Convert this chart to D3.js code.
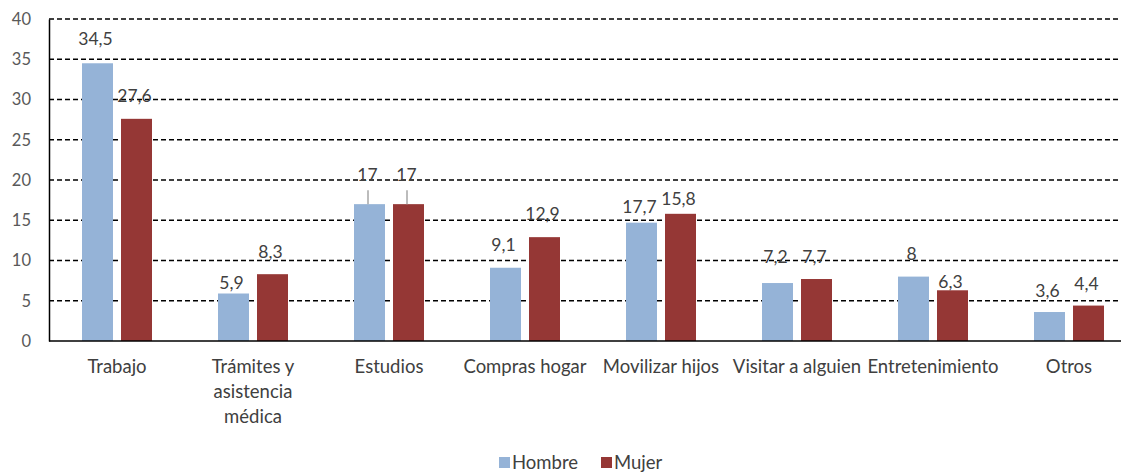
<!DOCTYPE html>
<html>
<head>
<meta charset="utf-8">
<script src="https://cdn.jsdelivr.net/npm/d3@7"></script>
<style>
  body { margin: 0; background: #fff; }
  svg text { font-family: Lato, "Open Sans", sans-serif; }
</style>
</head>
<body>
<div id="chart"></div>
<script>
const width = 1121;
const height = 473;

// Datos
const categories = ["Trabajo", "Trámites y asistencia médica", "Estudios", "Compras hogar",
  "Movilizar hijos", "Visitar a alguien", "Entretenimiento", "Otros"];
const categoryLines = [["Trabajo"], ["Trámites y", "asistencia", "médica"], ["Estudios"], ["Compras hogar"],
  ["Movilizar hijos"], ["Visitar a alguien"], ["Entretenimiento"], ["Otros"]];
const hombre = [34.5, 5.9, 17, 9.1, 14.7, 7.2, 8, 3.6];
const mujer = [27.6, 8.3, 17, 12.9, 15.8, 7.7, 6.3, 4.4];
const hombreLabels = ["34,5", "5,9", "17", "9,1", "17,7", "7,2", "8", "3,6"];
const mujerLabels = ["27,6", "8,3", "17", "12,9", "15,8", "7,7", "6,3", "4,4"];
// altura (en unidades del eje) donde quedaron las etiquetas
const hombreLabelAt = [37.5, 7.2, 20.6, 11.9, 16.6, 10.4, 10.8, 6.2];
const mujerLabelAt = [30.4, 11.1, 20.6, 15.8, 17.6, 10.4, 7.3, 7.1];
const yTicks = [0, 5, 10, 15, 20, 25, 30, 35, 40];
const series = ["Hombre", "Mujer"];
const colors = ["#95B3D7", "#953735"];

const margin = { top: 19, left: 49, bottom: 132 };
const svg = d3.select("#chart").append("svg")
  .attr("width", width)
  .attr("height", height);

const y = d3.scaleLinear().domain([0, 40]).range([height - margin.bottom, margin.top]);
const x = d3.scaleBand().domain(categories).range([margin.left, margin.left + 136 * 8]);
// barras de 31px con 8px de separación
const xs = d3.scaleBand().domain(series)
  .range([x.bandwidth() / 2 - 35, x.bandwidth() / 2 + 35])
  .paddingInner(8 / 39);

// Líneas de cuadrícula
svg.append("g")
  .selectAll("line")
  .data(yTicks.filter(d => d > 0))
  .join("line")
  .attr("x1", margin.left).attr("x2", width)
  .attr("y1", d => y(d)).attr("y2", d => y(d))
  .attr("stroke", "#000")
  .attr("stroke-width", 1.3)
  .attr("stroke-dasharray", "5,3");

// Eje Y
const yAxis = svg.append("g")
  .attr("transform", `translate(${margin.left},0)`)
  .call(d3.axisLeft(y).tickValues(yTicks).tickSize(0).tickPadding(18));
yAxis.select(".domain").attr("stroke", "#000").attr("stroke-width", 1.5);
yAxis.selectAll("text").attr("font-size", 16.5).attr("fill", "#595959");

// Barras
const rows = categories.map((c, i) => ({
  cat: c,
  vals: [
    { s: "Hombre", v: hombre[i], label: hombreLabels[i], at: hombreLabelAt[i] },
    { s: "Mujer", v: mujer[i], label: mujerLabels[i], at: mujerLabelAt[i] }
  ]
}));

const groups = svg.append("g")
  .selectAll("g")
  .data(rows)
  .join("g")
  .attr("transform", d => `translate(${x(d.cat)},0)`);

groups.selectAll("rect")
  .data(d => d.vals)
  .join("rect")
  .attr("x", d => xs(d.s))
  .attr("width", xs.bandwidth())
  .attr("y", d => y(d.v))
  .attr("height", d => y(0) - y(d.v))
  .attr("fill", (d, i) => colors[i]);

// Líneas guía (Estudios)
groups.filter(d => d.cat === "Estudios")
  .selectAll("line.guide")
  .data(d => d.vals)
  .join("line")
  .attr("class", "guide")
  .attr("x1", d => xs(d.s) + xs.bandwidth() / 2 - 1.5)
  .attr("x2", d => xs(d.s) + xs.bandwidth() / 2 - 1.5)
  .attr("y1", d => y(d.at) + 15)
  .attr("y2", d => y(d.v))
  .attr("stroke", "#A6A6A6")
  .attr("stroke-width", 1.5);

// Etiquetas
groups.selectAll("text.lbl")
  .data(d => d.vals)
  .join("text")
  .attr("class", "lbl")
  .attr("x", d => xs(d.s) + xs.bandwidth() / 2 - 2)
  .attr("y", d => y(d.at))
  .attr("dy", "0.35em")
  .attr("text-anchor", "middle")
  .attr("font-size", 17.5)
  .attr("fill", "#404040")
  .text(d => d.label);

// Eje X
svg.append("line")
  .attr("x1", margin.left).attr("x2", width)
  .attr("y1", y(0)).attr("y2", y(0))
  .attr("stroke", "#000").attr("stroke-width", 1.5);

svg.append("g")
  .selectAll("text")
  .data(categories)
  .join("text")
  .attr("x", d => x(d) + x.bandwidth() / 2)
  .attr("y", 373)
  .attr("text-anchor", "middle")
  .attr("font-size", 18.5)
  .attr("fill", "#404040")
  .selectAll("tspan")
  .data((d, i) => categoryLines[i])
  .join("tspan")
  .attr("x", function () { return this.parentNode.getAttribute("x"); })
  .attr("dy", (d, i) => i === 0 ? 0 : 25)
  .text(d => d);

// Leyenda
const legendX = [499, 601];
const legend = svg.append("g")
  .selectAll("g")
  .data(series)
  .join("g")
  .attr("transform", (d, i) => `translate(${legendX[i]},457)`);
legend.append("rect")
  .attr("width", 11).attr("height", 11)
  .attr("fill", (d, i) => colors[i]);
legend.append("text")
  .attr("x", 13).attr("y", 6)
  .attr("dy", "0.35em")
  .attr("font-size", 18.5)
  .attr("fill", "#404040")
  .text(d => d);
</script>
</body>
</html>
